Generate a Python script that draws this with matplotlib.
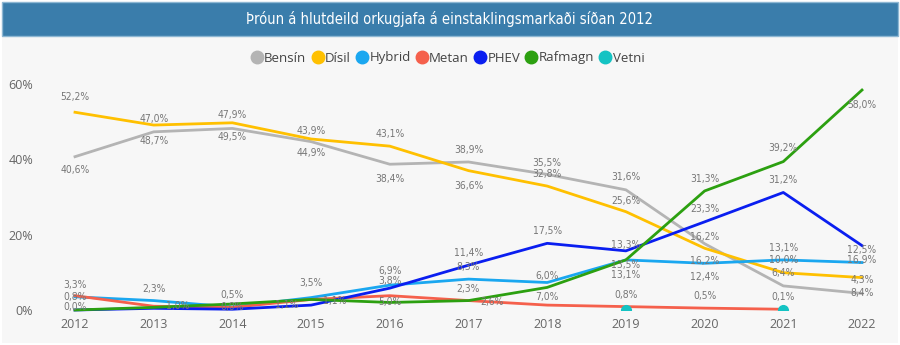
import numpy as np
import matplotlib.pyplot as plt
from matplotlib.patches import Rectangle
from matplotlib.lines import Line2D

nan = np.nan
years = np.arange(2012, 2023)

# share of each energy source (%)
bensin = [40.7, 47.3, 48.2, 44.7, 38.7, 39.3, 36.0, 31.9, 17.6, 6.4, 4.4]
disil = [52.5, 49.1, 49.7, 45.4, 43.5, 37.0, 32.9, 26.1, 16.4, 9.9, 8.6]
hybrid = [3.5, 2.5, 0.8, 3.3, 6.6, 8.2, 7.3, 13.3, 12.4, 13.3, 12.6]
metan = [3.8, 1.0, 0.7, 2.8, 3.8, 2.5, 1.3, 0.9, 0.5, 0.2, nan]
phev = [0.0, 0.45, 0.2, 1.3, 5.8, 11.9, 17.7, 15.7, 23.4, 31.2, 17.1]
rafmagn = [0.0, 0.7, 1.6, 2.8, 2.0, 2.5, 6.0, 13.3, 31.6, 39.4, 58.4]
vetni = [nan, nan, nan, nan, nan, nan, nan, 0.0, nan, 0.0, nan]

# data labels as printed on the chart
bensin_lbl = ["40,6%", "48,7%", "49,5%", "44,9%", "38,4%", "38,9%", "35,5%", "31,6%", "16,2%", "6,4%", "8,4%"]
disil_lbl = ["52,2%", "47,0%", "47,9%", "43,9%", "43,1%", "36,6%", "32,8%", "25,6%", "16,2%", "10,0%", "4,3%"]
hybrid_lbl = ["0,8%", "2,3%", "0,5%", "3,5%", "6,9%", "8,3%", "6,0%", "13,5%", "12,4%", "13,1%", "16,9%"]
metan_lbl = ["3,3%", "1,0%", "", "1,1%", "3,8%", "2,6%", "7,0%", "0,8%", "0,5%", "0,1%", ""]
phev_lbl = ["0,0%", "", "0,0%", "1,1%", "", "11,4%", "17,5%", "13,3%", "23,3%", "31,2%", "12,5%"]
rafmagn_lbl = ["", "", "", "", "5,0%", "2,3%", "", "13,1%", "31,3%", "39,2%", "58,0%"]

# label offsets in pixels (dx, dy)
bensin_dy = [-13, -9, -9, -11, -15, 12, 11, 13, 7, 13, 0]
disil_dy = [15, 6, 8, 8, 12, -15, 12, 11, -13, 13, -2]
hybrid_dy = [0, 12, 12, 15, 14, 12, 7, -5, -14, 12, 3]
metan_dx = [0, 24, 0, 24, 0, 24, 0, 0, 0, 0, 0]
metan_dy = [11, 0, 0, -2, 15, -1, 8, 12, 12, 12, 0]
phev_dx = [0, 0, 0, -24, 0, 0, 0, 0, 0, 0, 0]
phev_dy = [3, 0, 2, 0, 0, 12, 12, 6, 13, 12, -4]
rafmagn_dy = [0, 0, 0, 0, 0, 12, 0, -15, 12, 14, -15]
zero_dx = [0] * 11

series = [
    ("Bensín", bensin, "#B4B4B4", bensin_lbl, zero_dx, bensin_dy),
    ("Dísil", disil, "#FFC000", disil_lbl, zero_dx, disil_dy),
    ("Hybrid", hybrid, "#1AA7F0", hybrid_lbl, zero_dx, hybrid_dy),
    ("Metan", metan, "#F5604C", metan_lbl, metan_dx, metan_dy),
    ("PHEV", phev, "#0A1EF0", phev_lbl, phev_dx, phev_dy),
    ("Rafmagn", rafmagn, "#2CA010", rafmagn_lbl, zero_dx, rafmagn_dy),
]
vetni_color = "#14C3C3"

W, H = 900, 345
fig = plt.figure(figsize=(W / 100, H / 100), dpi=100)
fig.patch.set_facecolor("white")

# panel + title bar
fig.patches.append(Rectangle((2 / W, 2 / H), 896 / W, 307 / H, transform=fig.transFigure,
                             facecolor="#F7F7F7", edgecolor="none", zorder=0))
fig.patches.append(Rectangle((2 / W, (H - 36) / H), 896 / W, 34 / H, transform=fig.transFigure,
                             facecolor="#3A7DAB", edgecolor="#8DB7D3", linewidth=1, zorder=1))
fig.text(0.5, 1 - 19 / H, "Þróun á hlutdeild orkugjafa á einstaklingsmarkaði síðan 2012",
         color="white", fontsize=10.5, ha="center", va="center",
         family="DejaVu Sans", fontstretch="condensed")

ax = fig.add_axes([40 / W, (H - 310) / H, 845 / W, 235 / H])
ax.set_facecolor("none")
ax.set_zorder(3)

for name, vals, col, lbls, dxs, dys in series:
    ax.plot(years, vals, color=col, linewidth=2, clip_on=False, solid_joinstyle="round")
for name, vals, col, lbls, dxs, dys in series:
    for x, v, t, dx, dy in zip(years, vals, lbls, dxs, dys):
        if t and not np.isnan(v):
            ax.annotate(t, (x, v), xytext=(dx, dy), textcoords="offset pixels",
                        ha="center", va="center", fontsize=7.4, color="#777777",
                        family="DejaVu Sans", fontstretch="condensed", zorder=5)

ax.plot(years, vetni, "o", color=vetni_color, markersize=7, clip_on=True, zorder=4)

px_per_year = 787 / 10
ax.set_xlim(2012 - 35 / px_per_year, 2022 + 23 / px_per_year)
ax.set_ylim(0, 60 + 9 * 60 / 226)
ax.set_xticks(years)
ax.set_yticks([0, 20, 40, 60])
ax.set_yticklabels(["0%", "20%", "40%", "60%"])
for s in ax.spines.values():
    s.set_visible(False)
ax.tick_params(length=0, labelsize=9, labelcolor="#666666")
ax.tick_params(axis="x", pad=6)
ax.tick_params(axis="y", pad=5)
for t in ax.get_xticklabels() + ax.get_yticklabels():
    t.set_family("Open Sans")

handles = [Line2D([], [], linestyle="none", marker="o", markersize=9, color=c) for _, _, c, *_ in series]
handles.append(Line2D([], [], linestyle="none", marker="o", markersize=9, color=vetni_color))
names = [s[0] for s in series] + ["Vetni"]
fig.legend(handles, names, loc="center", bbox_to_anchor=(0.497, 1 - 58 / H), ncol=7,
           frameon=False, handletextpad=0.05, columnspacing=0.35, handlelength=1.0,
           prop={"family": "Open Sans", "size": 9.5}, labelcolor="#444444")

fig.savefig("out.png", dpi=100)
